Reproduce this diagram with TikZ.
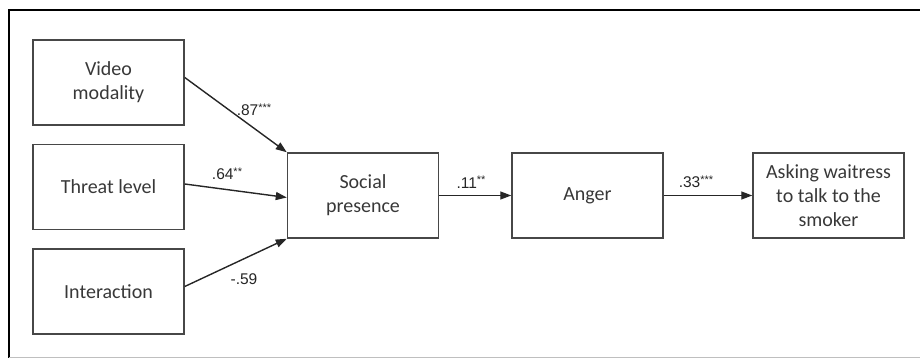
\documentclass[tikz,border=0pt]{standalone}
\usepackage{fontspec}
\setmainfont{Carlito}
\newfontfamily\labfont{Liberation Sans}
\usetikzlibrary{arrows.meta}
\newcommand{\stars}[1]{\raisebox{4.5pt}{\fontsize{11}{11}\selectfont #1}}
\tikzset{
  box/.style={draw=black!72, line width=1.5pt, minimum width=151pt, minimum height=85pt,
    align=center, inner sep=2pt, font=\fontsize{20}{24}\selectfont, text=black!78},
  conn/.style={line width=1.4pt, draw=black!85, -{Triangle[length=11pt,width=8pt]}},
  coef/.style={font=\labfont\fontsize{15.5}{17}\selectfont, text=black!85, inner sep=0pt}
}
\begin{document}
\begin{tikzpicture}[x=1pt,y=-1pt]
\useasboundingbox (0,0) rectangle (920,358);
% frame
\draw[line width=2.6pt, black] (9,358) -- (9,10) -- (920,10);
\draw[line width=1pt, black!25] (9,357) -- (920,357);
% boxes
\node[box] (vm) at (108.5,82.5) {Video\\modality};
\node[box] (tl) at (108.5,187) {Threat level};
\node[box] (in) at (108.5,291.5) {Interaction};
\node[box] (sp) at (363,195.5) {Social\\presence};
\node[box] (an) at (587.5,195.5) {Anger};
\node[box] (ask) at (828.5,195.5) {Asking waitress\\to talk to the\\smoker};
% connectors
\draw[conn] ([yshift=5pt]vm.east) -- (sp.north west);
\draw[conn] ([yshift=3pt]tl.east) -- ([yshift=-2pt]sp.west);
\draw[conn] ([yshift=5pt]in.east) -- (sp.south west);
\draw[conn] (sp.east) -- (an.west);
\draw[conn] (an.east) -- (ask.west);
% coefficients
\node[coef] (c1) at (254,110) {.87\stars{***}};
\node[coef] (c2) at (227,174) {.64\stars{**}};
\node[coef] (c3) at (244,279) {-.59};
\node[coef] (c4) at (471,182) {.11\stars{**}};
\node[coef] (c5) at (696,182) {.33\stars{***}};
\end{tikzpicture}
\end{document}
